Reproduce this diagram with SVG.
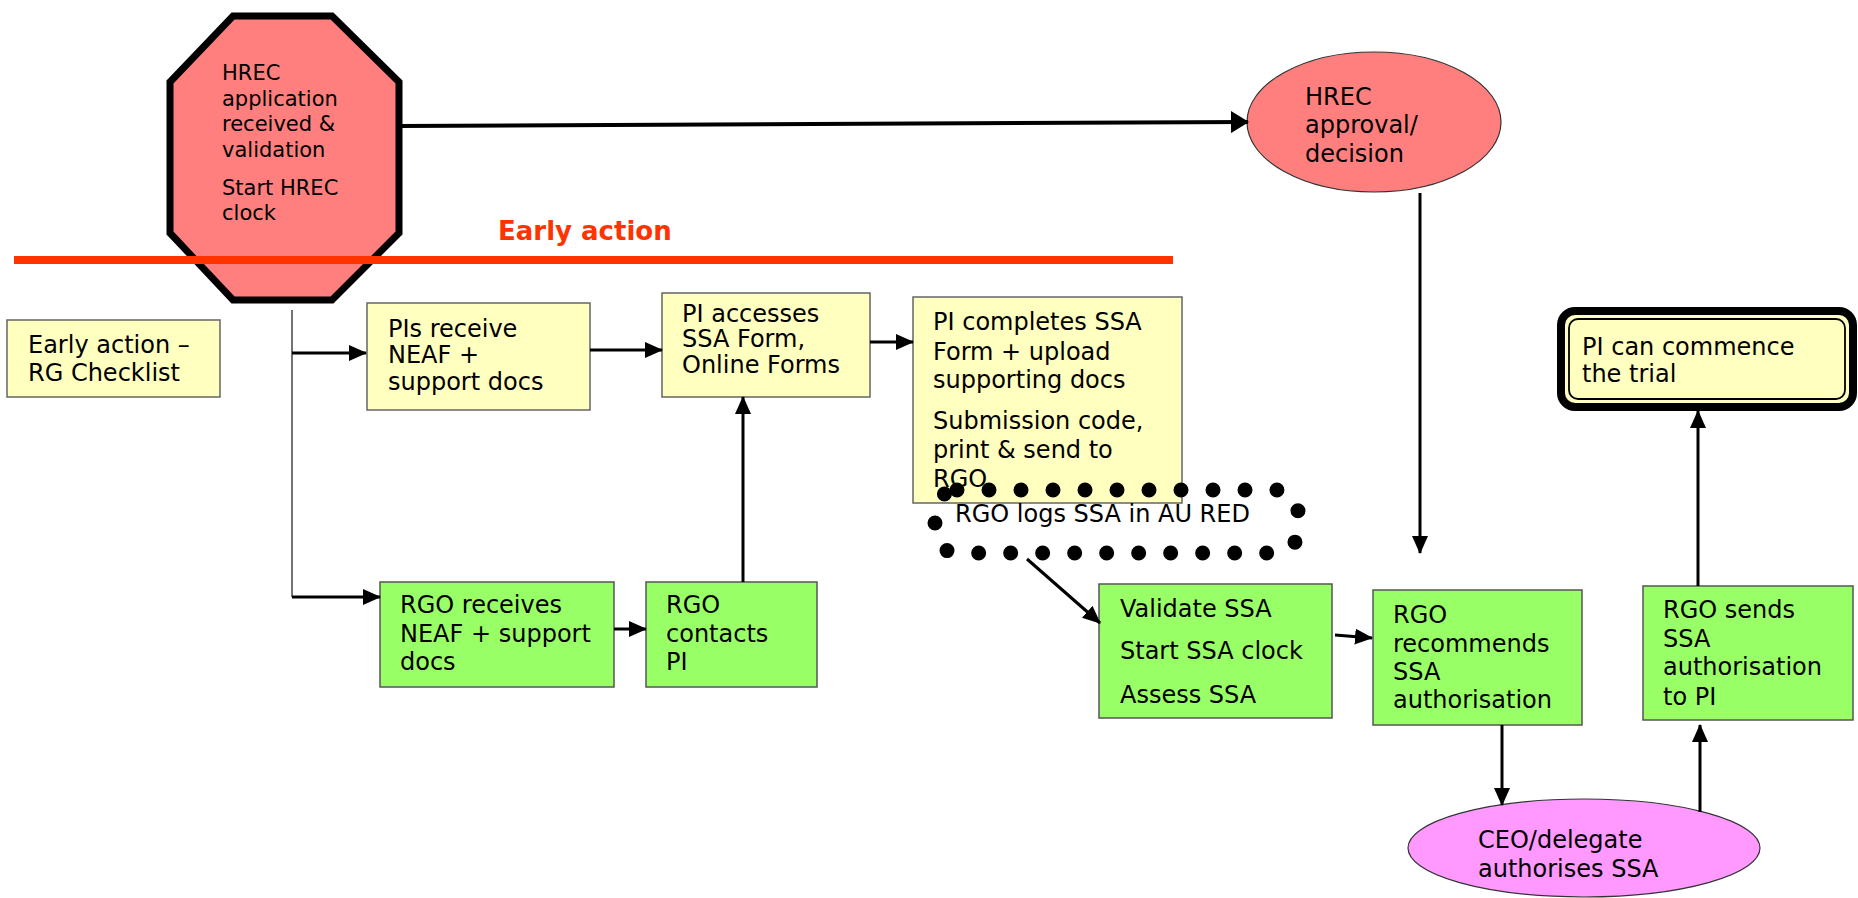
<svg xmlns="http://www.w3.org/2000/svg" width="1858" height="898" viewBox="0 0 1858 898">
<style>
text{font-family:"DejaVu Sans","Liberation Sans",sans-serif;fill:#000;}
.t24{font-size:24px;}
.t21{font-size:21px;}
.yel{fill:#FFFFC0;stroke:#666;stroke-width:1.5;}
.grn{fill:#99FF66;stroke:#555;stroke-width:1.5;}
.ln{stroke:#000;stroke-width:3;fill:none;}
</style>
<defs>
<marker id="ah" markerUnits="userSpaceOnUse" markerWidth="18" markerHeight="16" refX="17" refY="8" orient="auto">
<path d="M0,0 L18,8 L0,16 Z" fill="#000"/>
</marker>
<marker id="ahBig" markerUnits="userSpaceOnUse" markerWidth="18" markerHeight="22" refX="17" refY="11" orient="auto">
<path d="M0,0 L18,11 L0,22 Z" fill="#000"/>
</marker>
</defs>

<g id="hrec-app">
<polygon points="233,16 332,16 399,82 399,233 332,300 233,300 170,233 170,82" fill="#FF7F7F" stroke="#000" stroke-width="7" stroke-linejoin="miter"/>
<text class="t21"><tspan x="222" y="80">HREC</tspan><tspan x="222" y="106">application</tspan><tspan x="222" y="131">received &amp;</tspan><tspan x="222" y="157">validation</tspan><tspan x="222" y="195">Start HREC</tspan><tspan x="222" y="220">clock</tspan></text>
</g>

<g id="early-line">
<line x1="14" y1="260" x2="1173" y2="260" stroke="#FF3300" stroke-width="8"/>
<text x="498" y="240" style="font-size:26px;font-weight:bold;fill:#FF3300">Early action</text>
</g>

<g id="hrec-approval">
<ellipse cx="1374" cy="122" rx="127" ry="70" fill="#FF7F7F" stroke="#333" stroke-width="1.2"/>
<text class="t24"><tspan x="1305" y="105">HREC</tspan><tspan x="1305" y="133">approval/</tspan><tspan x="1305" y="162">decision</tspan></text>
</g>

<g id="early-checklist">
<rect x="7" y="320" width="213" height="77" class="yel"/>
<text class="t24"><tspan x="28" y="353">Early action –</tspan><tspan x="28" y="381">RG Checklist</tspan></text>
</g>

<g id="pis-receive">
<rect x="367" y="303" width="223" height="107" class="yel"/>
<text class="t24"><tspan x="388" y="337">PIs receive</tspan><tspan x="388" y="363">NEAF +</tspan><tspan x="388" y="390">support docs</tspan></text>
</g>

<g id="pi-accesses">
<rect x="662" y="293" width="208" height="104" class="yel"/>
<text class="t24"><tspan x="682" y="322">PI accesses</tspan><tspan x="682" y="347">SSA Form,</tspan><tspan x="682" y="373">Online Forms</tspan></text>
</g>

<g id="pi-completes">
<rect x="913" y="297" width="269" height="206" class="yel"/>
<text class="t24"><tspan x="933" y="330">PI completes SSA</tspan><tspan x="933" y="360">Form + upload</tspan><tspan x="933" y="388">supporting docs</tspan><tspan x="933" y="429">Submission code,</tspan><tspan x="933" y="458">print &amp; send to</tspan><tspan x="933" y="487">RGO</tspan></text>
</g>

<g id="rgo-logs">
<rect x="935" y="490" width="363" height="63" rx="22" fill="none" stroke="#000" stroke-width="15" stroke-linecap="round" stroke-dasharray="0 32"/>
<text x="955" y="522" class="t24">RGO logs SSA in AU RED</text>
</g>

<g id="rgo-receives">
<rect x="380" y="582" width="234" height="105" class="grn"/>
<text class="t24"><tspan x="400" y="613">RGO receives</tspan><tspan x="400" y="642">NEAF + support</tspan><tspan x="400" y="670">docs</tspan></text>
</g>

<g id="rgo-contacts">
<rect x="646" y="582" width="171" height="105" class="grn"/>
<text class="t24"><tspan x="666" y="613">RGO</tspan><tspan x="666" y="642">contacts</tspan><tspan x="666" y="670">PI</tspan></text>
</g>

<g id="validate">
<rect x="1099" y="584" width="233" height="134" class="grn"/>
<text class="t24"><tspan x="1120" y="617">Validate SSA</tspan><tspan x="1120" y="659">Start SSA clock</tspan><tspan x="1120" y="703">Assess SSA</tspan></text>
</g>

<g id="rgo-recommends">
<rect x="1373" y="590" width="209" height="135" class="grn"/>
<text class="t24"><tspan x="1393" y="623">RGO</tspan><tspan x="1393" y="652">recommends</tspan><tspan x="1393" y="680">SSA</tspan><tspan x="1393" y="708">authorisation</tspan></text>
</g>

<g id="ceo">
<ellipse cx="1584" cy="848" rx="176" ry="49" fill="#FF99FF" stroke="#333" stroke-width="1.2"/>
<text class="t24"><tspan x="1478" y="848">CEO/delegate</tspan><tspan x="1478" y="877">authorises SSA</tspan></text>
</g>

<g id="rgo-sends">
<rect x="1643" y="586" width="210" height="134" class="grn"/>
<text class="t24"><tspan x="1663" y="618">RGO sends</tspan><tspan x="1663" y="647">SSA</tspan><tspan x="1663" y="675">authorisation</tspan><tspan x="1663" y="705">to PI</tspan></text>
</g>

<g id="commence">
<rect x="1561" y="311" width="292" height="96" rx="14" fill="#FFFFC0" stroke="#000" stroke-width="8"/>
<rect x="1569" y="319" width="276" height="80" rx="9" fill="none" stroke="#000" stroke-width="1.8"/>
<text class="t24"><tspan x="1582" y="355">PI can commence</tspan><tspan x="1582" y="382">the trial</tspan></text>
</g>

<g id="connectors">
<line x1="399" y1="126" x2="1248" y2="122" stroke="#000" stroke-width="4" marker-end="url(#ahBig)"/>
<line x1="1420" y1="193" x2="1420" y2="553" class="ln" marker-end="url(#ah)"/>
<line x1="292" y1="310" x2="292" y2="597" stroke="#444" stroke-width="1.5"/>
<line x1="292" y1="353" x2="366" y2="353" class="ln" marker-end="url(#ah)"/>
<line x1="292" y1="597" x2="380" y2="597" class="ln" marker-end="url(#ah)"/>
<line x1="590" y1="350" x2="662" y2="350" class="ln" marker-end="url(#ah)"/>
<line x1="870" y1="342" x2="913" y2="342" class="ln" marker-end="url(#ah)"/>
<line x1="614" y1="629" x2="646" y2="629" class="ln" marker-end="url(#ah)"/>
<line x1="743" y1="582" x2="743" y2="397" class="ln" marker-end="url(#ah)"/>
<line x1="1027" y1="559" x2="1100" y2="623" class="ln" marker-end="url(#ah)"/>
<line x1="1335" y1="635" x2="1372" y2="638" class="ln" marker-end="url(#ah)"/>
<line x1="1502" y1="725" x2="1502" y2="805" class="ln" marker-end="url(#ah)"/>
<line x1="1700" y1="812" x2="1700" y2="725" class="ln" marker-end="url(#ah)"/>
<line x1="1698" y1="586" x2="1698" y2="411" class="ln" marker-end="url(#ah)"/>
</g>
</svg>
